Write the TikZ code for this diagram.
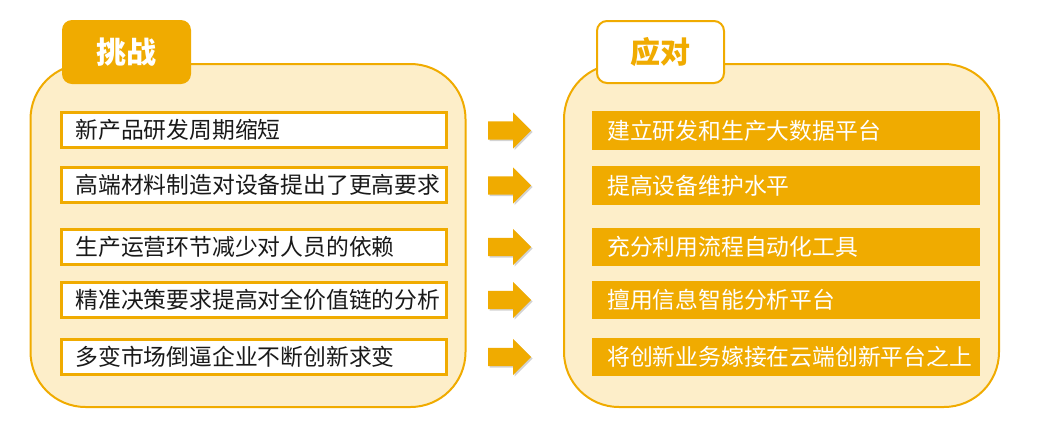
\documentclass[tikz,border=0pt]{standalone}
\usepackage{fontspec}
\usepackage{tikz}
\usepackage{xcolor}
\newfontfamily\cjk{Noto Sans CJK SC}
\definecolor{gold}{HTML}{F0AB00}
\definecolor{cream}{HTML}{FDEEC9}
\usetikzlibrary{shapes.arrows}
\usetikzlibrary{shadows}
\tikzset{panel/.style={draw=gold,line width=2pt,fill=cream,rounded corners=55pt,
  minimum width=435pt,minimum height=343pt},
 tabfull/.style={fill=gold,text=white,rounded corners=10pt,minimum width=129pt,
  minimum height=64pt,font=\cjk\bfseries\fontsize{30}{34}\selectfont},
 tabline/.style={draw=gold,line width=2pt,fill=white,text=gold,rounded corners=10pt,
  minimum width=127pt,minimum height=62pt,font=\cjk\bfseries\fontsize{30}{34}\selectfont},
 issue/.style={draw=gold,line width=3pt,fill=white,anchor=west,
  inner xsep=14.5pt,inner ysep=0pt,minimum height=35pt,
  execute at begin node=\hbox to 356pt\bgroup,execute at end node=\hss\egroup,
  text=black!90,font=\cjk\fontsize{22.8}{26}\selectfont},
 answer/.style={fill=gold,anchor=west,inner xsep=15pt,inner ysep=0pt,
  minimum height=38.5pt,text=white,
  execute at begin node=\hbox to 358pt\bgroup,execute at end node=\hss\egroup,
  font=\cjk\fontsize{22.8}{26}\selectfont},
 go/.style={single arrow,fill=gold,inner xsep=0pt,inner ysep=9pt,minimum height=43pt,
  single arrow head extend=9pt,anchor=tail,
  drop shadow={shadow xshift=1.5pt,shadow yshift=-1.5pt,opacity=0.35}},
 }

\begin{document}
\begin{tikzpicture}[x=1pt,y=-1pt]
    \useasboundingbox (0,0) rectangle (1047,432);
    % two panels
    \node[panel] (left) at (248,235.5) {};
    \node[panel] (right) at (781.5,235.5) {};
    \node[tabfull] (ltab) at (126.5,52) {挑战};
    \node[tabline] (rtab) at (660.5,52) {应对};
    % challenges
    \node[issue] (c1) at (59.5,130) {新产品研发周期缩短};
    \node[issue] (c2) at (59.5,185) {高端材料制造对设备提出了更高要求};
    \node[issue] (c3) at (59.5,247) {生产运营环节减少对人员的依赖};
    \node[issue] (c4) at (59.5,300) {精准决策要求提高对全价值链的分析};
    \node[issue] (c5) at (59.5,357) {多变市场倒逼企业不断创新求变};
    % answers
    \node[answer] (r1) at (592,130.5) {建立研发和生产大数据平台};
    \node[answer] (r2) at (592,185.5) {提高设备维护水平};
    \node[answer] (r3) at (592,247) {充分利用流程自动化工具};
    \node[answer] (r4) at (592,300) {擅用信息智能分析平台};
    \node[answer] (r5) at (592,357) {将创新业务嫁接在云端创新平台之上};
    % arrows
    \node[go] (a1) at (488,130.5) {};
    \node[go] (a2) at (488,185.5) {};
    \node[go] (a3) at (488,247) {};
    \node[go] (a4) at (488,300) {};
    \node[go] (a5) at (488,357) {};
\end{tikzpicture}
\end{document}
